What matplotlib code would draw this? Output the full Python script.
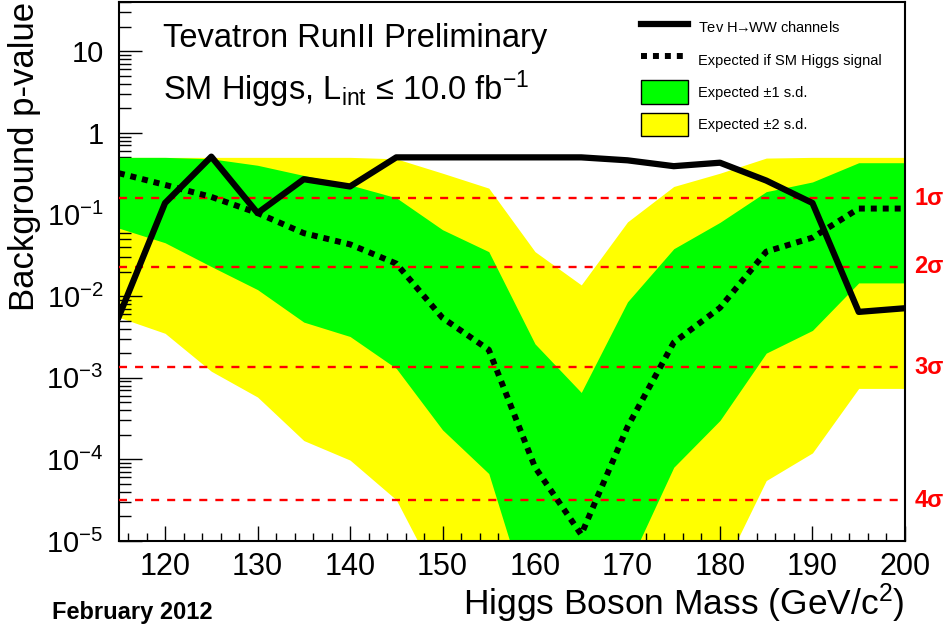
import math
import matplotlib
matplotlib.use("Agg")
import matplotlib.pyplot as plt
from matplotlib.lines import Line2D
from matplotlib.patches import Patch
from matplotlib.ticker import MultipleLocator, LogLocator, FuncFormatter, NullFormatter

plt.rcParams['font.family'] = ['Liberation Sans', 'DejaVu Sans']
plt.rcParams['mathtext.fontset'] = 'custom'
plt.rcParams['mathtext.rm'] = 'Liberation Sans'
plt.rcParams['mathtext.it'] = 'Liberation Sans:italic'
plt.rcParams['mathtext.bf'] = 'Liberation Sans:bold'
plt.rcParams['mathtext.default'] = 'regular'

# Higgs mass points (GeV/c^2)
mass = [115, 120, 125, 130, 135, 140, 145, 150, 155, 160,
        165, 170, 175, 180, 185, 190, 195, 200]

# observed background p-value, H->WW channels
obs = [0.0056, 0.138, 0.51, 0.104, 0.27, 0.22, 0.50, 0.50, 0.50, 0.50,
       0.50, 0.46, 0.39, 0.43, 0.26, 0.138, 0.0064, 0.0071]

# expected p-value if SM Higgs signal present
exp_sig = [0.32, 0.23, 0.164, 0.104, 0.059, 0.043, 0.025, 0.0054, 0.0022, 8e-5,
           1.2e-5, 2.5e-4, 0.0027, 0.0072, 0.035, 0.052, 0.118, 0.118]

# +-1 s.d. band
band1_hi = [0.50, 0.50, 0.48, 0.40, 0.30, 0.23, 0.16, 0.065, 0.035, 0.0026,
            6.6e-4, 0.0085, 0.038, 0.08, 0.19, 0.25, 0.43, 0.43]
band1_lo = [0.068, 0.045, 0.023, 0.012, 0.0048, 0.0032, 0.0013, 2.3e-4, 6.7e-5, 1e-6,
            2e-7, 4.8e-6, 8e-5, 3.0e-4, 0.0020, 0.0038, 0.0145, 0.0145]

# +-2 s.d. band
band2_hi = [0.50, 0.50, 0.50, 0.50, 0.50, 0.50, 0.48, 0.32, 0.21, 0.035,
            0.0137, 0.081, 0.22, 0.32, 0.49, 0.50, 0.50, 0.50]
band2_lo = [0.0055, 0.0035, 0.0012, 5.8e-4, 1.7e-4, 9.8e-5, 3.2e-5, 2.6e-6, 1e-7, 1e-8,
            1e-8, 1e-8, 1e-7, 3.8e-6, 5.5e-5, 1.2e-4, 7.4e-4, 7.4e-4]

# significance reference lines
sigma_p = [0.1587, 0.02275, 0.00135, 3.17e-5]
sigma_lab = ['1σ', '2σ', '3σ', '4σ']

fig = plt.figure(figsize=(9.49, 6.38), dpi=100)
ax = fig.add_axes([0.1252, 0.152, 0.8284, 0.8449])

ax.fill_between(mass, band2_lo, band2_hi, color='#ffff00', lw=0, zorder=1)
ax.fill_between(mass, band1_lo, band1_hi, color='#00ff00', lw=0, zorder=2)

for p, lab in zip(sigma_p, sigma_lab):
    ax.axhline(p, color='#ff0000', lw=1.7, linestyle=(0, (3.4, 3.4)), zorder=3)
    ax.text(1.012, p, lab, transform=ax.get_yaxis_transform(), color='#ff0000',
            fontsize=17, fontweight='bold', ha='left', va='center')

ax.plot(mass, exp_sig, color='black', lw=4.3, linestyle=(0, (1, 1)), zorder=4)
ax.plot(mass, obs, color='black', lw=4.5, zorder=5)

ax.set_yscale('log')
ax.set_xlim(115, 200)
ax.set_ylim(1e-5, 40)

ax.xaxis.set_major_locator(MultipleLocator(10))
ax.xaxis.set_minor_locator(MultipleLocator(2))
ax.yaxis.set_major_locator(LogLocator(base=10, numticks=20))
ax.yaxis.set_minor_locator(LogLocator(base=10, subs=range(2, 10), numticks=20))
ax.yaxis.set_minor_formatter(NullFormatter())


def fmt(v, pos):
    if abs(v - 1) < 1e-9:
        return '1'
    if abs(v - 10) < 1e-9:
        return '10'
    return '$10^{%d}$' % round(math.log10(v))


ax.yaxis.set_major_formatter(FuncFormatter(fmt))
ax.tick_params(axis='both', which='both', direction='in', top=False, right=False,
               width=1)
ax.tick_params(axis='x', which='major', length=11, pad=8, labelsize=22)
ax.tick_params(axis='x', which='minor', length=5.5)
ax.tick_params(axis='y', which='major', length=16.5, pad=11, labelsize=21)
ax.tick_params(axis='y', which='minor', length=8.5)
for s in ax.spines.values():
    s.set_linewidth(1.5)

fig.text(0.026, 0.997, 'Background p-value', rotation=90, ha='center', va='top',
         fontsize=25)
fig.text(905 / 949, 1 - 615 / 638, 'Higgs Boson Mass (GeV/c$^{2}$)', ha='right',
         va='baseline', fontsize=25.5)
fig.text(52 / 949, 1 - 619 / 638, 'February 2012', fontsize=17, fontweight='bold',
         va='baseline')

fig.text(163 / 949, 1 - 47 / 638, 'Tevatron RunII Preliminary', fontsize=23.5,
         va='baseline')
fig.text(163 / 949, 1 - 100 / 638, 'SM Higgs, L$_{int}$ ≤ 10.0 fb$^{-1}$',
         fontsize=23.5, va='baseline')

handles = [
    Line2D([], [], color='black', lw=4.5),
    Line2D([], [], color='black', lw=4.3, linestyle=(0, (1, 1))),
    Patch(facecolor='#00ff00', edgecolor='black', lw=1),
    Patch(facecolor='#ffff00', edgecolor='black', lw=1),
]
labels = [r'Tev H$\!\!\rightarrow\!\!$WW channels', 'Expected if SM Higgs signal',
          'Expected ±1 s.d.', 'Expected ±2 s.d.']
ax.legend(handles, labels, loc='upper left', bbox_to_anchor=(641 / 949, 1 - 16 / 638),
          bbox_transform=fig.transFigure, frameon=False, fontsize=10.5,
          handlelength=3.2, handleheight=2.1, handletextpad=0.7,
          labelspacing=0.6, borderpad=0, borderaxespad=0)

fig.savefig('out.png', dpi=100)
